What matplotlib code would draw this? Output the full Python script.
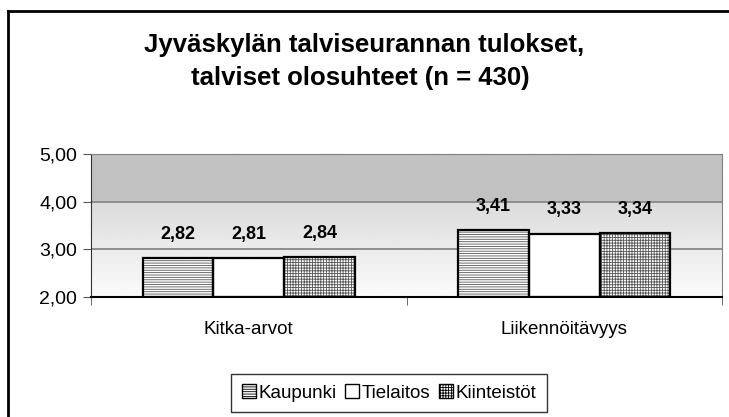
import numpy as np
import matplotlib
matplotlib.use("Agg")
import matplotlib.pyplot as plt
from matplotlib.lines import Line2D

# Data
categories = ["Kitka-arvot", "Liikennöitävyys"]
series_names = ["Kaupunki", "Tielaitos", "Kiinteistöt"]
kaupunki = [2.82, 3.41]
tielaitos = [2.81, 3.33]
kiinteistot = [2.84, 3.34]
yticks = [2.0, 3.0, 4.0, 5.0]

plt.rcParams['font.family'] = ['Liberation Sans', 'DejaVu Sans']
plt.rcParams['hatch.linewidth'] = 0.6

fig = plt.figure(figsize=(7.29, 4.17), dpi=100)
ax = fig.add_axes([91 / 729, 1 - 297 / 417, 631 / 729, 143 / 417])

# gradient plot area background: flat gray band on top, fading to white below
yy = np.linspace(2, 5, 300)
shade = np.where(yy >= 4, 0.76, 0.985 - (yy - 2) / 2 * (0.985 - 0.86))
ax.imshow(shade[:, None], extent=[-0.5, 1.5, 2, 5], origin='lower', aspect='auto',
          cmap='gray', vmin=0, vmax=1, zorder=0)

x = np.arange(len(categories))
w = 0.224
values = [kaupunki, tielaitos, kiinteistot]
hatches = ['-------', '', '++++++']
for i, (vals, h) in enumerate(zip(values, hatches)):
    pos = x + (i - 1) * w
    ax.bar(pos, [v - 2 for v in vals], w, bottom=2, color='white', edgecolor='#555555',
           hatch=h, linewidth=0, zorder=2)
    ax.bar(pos, [v - 2 for v in vals], w, bottom=2, fill=False, edgecolor='black',
           linewidth=1.6, zorder=3, label=series_names[i])
    for p, v in zip(pos, vals):
        ax.annotate(f"{v:.2f}".replace('.', ','), (p, v), xytext=(0, 17),
                    textcoords='offset points', ha='center', va='center',
                    fontsize=13, fontweight='bold')

ax.set_xlim(-0.5, 1.5)
ax.set_ylim(2, 5)
ax.set_yticks(yticks)
ax.set_yticklabels([f"{t:.2f}".replace('.', ',') for t in yticks], fontsize=14)
for t in yticks[1:]:
    ax.axhline(t, color='#808080', lw=1.2, zorder=1)

ax.set_xticks(x)
ax.set_xticklabels(categories, fontsize=13.5)
ax.tick_params(axis='x', length=0, pad=17)
ax.set_xticks([-0.5, 0.5, 1.5], minor=True)
ax.tick_params(axis='x', which='minor', length=6, color='#555555')
ax.tick_params(axis='y', length=6, color='#555555', pad=4)

for s in ['top', 'right']:
    ax.spines[s].set_color('#808080')
ax.spines['left'].set_color('#333333')
ax.spines['bottom'].set_color('black')
ax.spines['bottom'].set_linewidth(1.5)

# chart title (two lines)
fig.text(364 / 729, 1 - 45 / 417, "Jyväskylän talviseurannan tulokset,",
         ha='center', va='center', fontsize=18.5, fontweight='bold')
fig.text(360 / 729, 1 - 78 / 417, "talviset olosuhteet (n = 430)",
         ha='center', va='center', fontsize=18.5, fontweight='bold')

# outer chart border (only left and top visible)
fig.add_artist(Line2D([8 / 729, 8 / 729], [0, 1 - 11 / 417], color='black', lw=2))
fig.add_artist(Line2D([8 / 729, 1], [1 - 11 / 417, 1 - 11 / 417], color='black', lw=2))

leg = fig.legend(loc='center', bbox_to_anchor=(389 / 729, 1 - 393 / 417), ncol=3,
                 fontsize=13.5, frameon=True, fancybox=False, edgecolor='black',
                 handlelength=0.75, handleheight=0.75, handletextpad=0.15,
                 columnspacing=0.45, borderpad=0.55, borderaxespad=0)
leg.get_frame().set_linewidth(1.0)
# legend handles show hatch too
for hnd, h in zip(leg.legend_handles, hatches):
    hnd.set_hatch(h)
    hnd.set_linewidth(1.0)

fig.savefig("out.png", dpi=100, facecolor='white')
